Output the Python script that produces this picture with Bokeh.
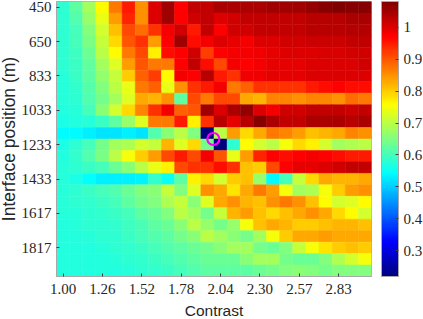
from bokeh.plotting import figure
from bokeh.embed import file_html
from bokeh.resources import INLINE
from bokeh.models import (ColumnDataSource, LinearColorMapper, ColorBar, FixedTicker, Range1d)
from bokeh.transform import transform

x_tick_labels = ["1.00", "1.26", "1.52", "1.78", "2.04", "2.30", "2.57", "2.83"]
y_tick_labels = ["450", "650", "833", "1033", "1233", "1433", "1617", "1817"]
marker_col = [11.45]
marker_row = [11.5]

row00 = [.58,.62,.68,.76,.87,.95,.85,1.0,1.05,.97,1.02,1.02,1.04,1.04,1.04,1.04,1.05,1.05,1.05,1.06,1.07,1.08,1.07,1.07]
row01 = [.58,.61,.67,.74,.84,.94,.85,1.0,1.05,.97,1.01,1.02,1.0,1.01,1.02,1.02,1.02,1.02,1.02,1.03,1.03,1.03,1.04,1.04]
row02 = [.58,.60,.655,.72,.81,.91,.88,.93,.98,1.01,.95,1.02,.97,1.01,1.01,1.02,1.02,1.02,1.02,1.03,1.03,1.03,1.035,1.035]
row03 = [.58,.60,.645,.71,.79,.90,.93,.84,.97,1.05,.96,.98,1.0,.99,.98,1.0,1.0,1.01,1.01,1.015,1.015,1.015,1.02,1.025]
row04 = [.58,.595,.635,.70,.76,.87,.91,.77,.96,.97,1.01,.92,.97,.98,.98,.985,.99,1.0,1.0,1.0,1.005,1.005,1.01,1.01]
row05 = [.58,.59,.625,.68,.73,.84,.90,.87,.87,.97,1.02,.96,.91,.98,.97,.98,.99,.99,.99,1.0,1.0,1.0,1.0,1.01]
row06 = [.575,.59,.62,.665,.71,.80,.89,.92,.76,.98,.97,1.03,.95,.93,.985,.985,.99,.99,.99,1.0,1.0,1.0,1.0,1.0]
row07 = [.575,.585,.615,.65,.70,.74,.87,.89,.74,.85,.93,.95,.98,.87,.89,.93,.93,.93,.93,.95,.96,.97,.96,.96]
row08 = [.575,.58,.61,.64,.68,.73,.83,.82,.85,.62,.91,.87,.91,.91,.83,.82,.86,.86,.85,.86,.86,.85,.88,.87]
row09 = [.57,.575,.60,.66,.72,.79,.86,.93,.98,.89,.90,1.05,1.0,1.04,1.06,1.0,.98,1.01,1.01,1.02,1.02,1.02,1.015,1.02]
row10 = [.565,.57,.575,.59,.62,.67,.73,.87,.87,.95,.77,.93,1.03,.99,1.03,1.07,1.04,1.02,1.02,1.04,1.04,1.04,1.03,1.04]
row11 = [.54,.54,.53,.52,.52,.53,.52,.61,.66,.70,.65,.22,.70,.84,.79,.83,.87,.86,.84,.81,.82,.83,.86,.85]
row12 = [.565,.58,.60,.64,.68,.69,.72,.71,.82,.73,.79,.64,.22,.58,.76,.72,.70,.75,.79,.77,.72,.68,.69,.70]
row13 = [.57,.585,.61,.645,.70,.75,.80,.84,.91,.95,.91,.98,.90,.74,.84,.94,.97,.96,.97,.98,.97,.96,.95,.95]
row14 = [.575,.58,.59,.60,.63,.66,.70,.74,.77,.91,.93,.93,.96,.93,.81,.80,.91,.97,.99,.99,1.0,1.01,1.02,1.02]
row15 = [.575,.565,.545,.53,.53,.53,.535,.585,.55,.62,.77,.79,.72,.80,.81,.67,.54,.60,.71,.79,.83,.82,.82,.83]
row16 = [.575,.58,.59,.60,.61,.63,.65,.66,.71,.65,.73,.85,.83,.78,.83,.87,.84,.75,.68,.69,.75,.80,.84,.85]
row17 = [.575,.58,.585,.59,.60,.62,.64,.65,.69,.71,.66,.73,.83,.85,.82,.81,.85,.87,.85,.81,.76,.72,.73,.76]
row18 = [.575,.575,.58,.585,.59,.60,.62,.63,.65,.70,.68,.64,.71,.82,.84,.81,.79,.81,.83,.85,.83,.79,.76,.72]
row19 = [.57,.575,.58,.58,.585,.595,.605,.62,.63,.66,.70,.67,.64,.67,.75,.81,.83,.82,.80,.80,.81,.82,.82,.81]
row20 = [.57,.57,.575,.58,.58,.59,.60,.61,.62,.64,.66,.70,.68,.66,.64,.68,.75,.80,.83,.83,.84,.83,.83,.83]
row21 = [.57,.57,.57,.575,.58,.585,.59,.60,.61,.62,.63,.64,.66,.68,.68,.64,.63,.65,.71,.75,.78,.80,.81,.80]
row22 = [.57,.57,.57,.57,.575,.58,.585,.59,.60,.61,.62,.63,.63,.63,.66,.68,.68,.64,.63,.63,.65,.69,.72,.75]
row23 = [.57,.57,.57,.57,.57,.575,.58,.585,.59,.60,.61,.62,.62,.62,.62,.63,.64,.65,.66,.65,.64,.65,.65,.65]
rows = [row00,row01,row02,row03,row04,row05,row06,row07,row08,row09,row10,row11,
        row12,row13,row14,row15,row16,row17,row18,row19,row20,row21,row22,row23]

def jet(t):
    def c(v):
        return int(round(255 * max(0.0, min(1.0, v))))
    return "#%02x%02x%02x" % (c(1.5 - abs(4*t - 3)), c(1.5 - abs(4*t - 2)), c(1.5 - abs(4*t - 1)))

palette = [jet(i / 255) for i in range(256)]
mapper = LinearColorMapper(palette=palette, low=0.22, high=1.08)

xs, ys, vs = [], [], []
for r, row in enumerate(rows):
    for c, v in enumerate(row):
        xs.append(c); ys.append(r); vs.append(v)
src = ColumnDataSource(dict(x=xs, y=ys, v=vs))

p = figure(frame_width=315, frame_height=275, output_backend="svg", toolbar_location=None,
           x_range=Range1d(-0.5, 23.5), y_range=Range1d(23.5, -0.5),
           min_border_left=0, min_border_right=0, min_border_top=1, min_border_bottom=0,
           x_axis_location="below", y_axis_location="left")
p.styles = {"position": "absolute", "left": "-5px", "top": "0px"}
p.grid.visible = False
p.outline_line_color = "#a8a8a8"
p.rect("x", "y", 1, 1, source=src, fill_color=transform("v", mapper),
       line_color=transform("v", mapper), line_width=0.5)
p.scatter(marker_col, marker_row, marker="circle", size=12, fill_color=None,
          line_color="#ff00ff", line_width=2.2)

xt = [i * 3 for i in range(8)]
serif = "Liberation Serif"
for ax, ticks, labels in [(p.xaxis[0], xt, x_tick_labels), (p.yaxis[0], xt, y_tick_labels)]:
    ax.ticker = FixedTicker(ticks=ticks)
    ax.major_label_overrides = dict(zip(ticks, labels))
    ax.major_label_text_font = serif
    ax.major_label_text_font_size = "15px"
    ax.major_label_text_color = "#262626"
    ax.axis_label_text_font = "Liberation Sans"
    ax.axis_label_text_font_size = "15.5px"
    ax.axis_label_text_font_style = "normal"
    ax.axis_label_text_color = "#262626"
    ax.major_tick_in = 3
    ax.major_tick_out = 0
    ax.minor_tick_in = 0
    ax.minor_tick_out = 0
    ax.axis_line_color = "#a8a8a8"
    ax.major_tick_line_color = "#404040"
p.xaxis[0].major_label_standoff = 7
p.yaxis[0].major_label_standoff = 5
p.xaxis[0].axis_label = "Contrast"
p.xaxis[0].axis_label_standoff = 5
p.yaxis[0].axis_label = "Interface position (m)"
p.yaxis[0].axis_label_text_font_size = "17.5px"
p.yaxis[0].axis_label_standoff = 0

cb = ColorBar(color_mapper=mapper, width=17, height=275, location=(10, 0), padding=0,
              ticker=FixedTicker(ticks=[0.3, 0.4, 0.5, 0.6, 0.7, 0.8, 0.9, 1.0]),
              major_label_overrides={0.3: "0.3", 0.4: "0.4", 0.5: "0.5", 0.6: "0.6",
                                     0.7: "0.7", 0.8: "0.8", 0.9: "0.9", 1.0: "1"},
              major_label_text_font=serif, major_label_text_font_size="15px",
              major_label_text_color="#262626", major_tick_in=3, major_tick_out=0,
              major_tick_line_color="#404040", bar_line_color="#a8a8a8",
              minor_tick_in=0, minor_tick_out=0, label_standoff=5)
p.add_layout(cb, "right")

open("out.html", "w").write(file_html(p, INLINE))
